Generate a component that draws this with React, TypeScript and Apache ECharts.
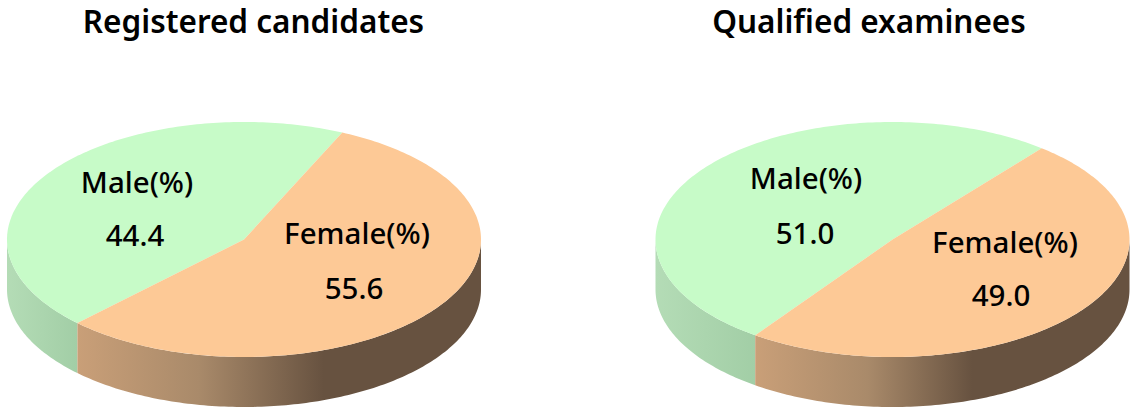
import React, { useEffect, useRef } from "react";
import * as echarts from "echarts";

const categories = ["Male(%)", "Female(%)"];
const registeredValues = [44.4, 55.6];
const qualifiedValues = [51.0, 49.0];
const pieTitles = ["Registered candidates", "Qualified examinees"];

const W = 1132;
const H = 409;
const FONT = '"Noto Sans", sans-serif';
const RX = 237;
const RY = 117.5;
const DEPTH = 50;
const TOP_COLORS = ["#C7FBC8", "#FDC996"];

const layouts = [
  {
    cx: 244,
    cy: 239.5,
    femaleStart: 24.5,
    titleX: 248.5,
    labels: [[137, 181, 135, 234], [357, 232, 354, 287]],
    darkStop: 0.61,
  },
  {
    cx: 892.5,
    cy: 239.5,
    femaleStart: 39,
    titleX: 864,
    labels: [[806, 177, 805, 232], [1005, 241, 1001, 294]],
    darkStop: 0.58,
  },
];

const pt = (l: any, deg: number, dy = 0) => {
  const a = (deg * Math.PI) / 180;
  return [l.cx + RX * Math.sin(a), l.cy - RY * Math.cos(a) + dy];
};

const arcPts = (l: any, from: number, to: number, dy = 0) => {
  const n = Math.max(2, Math.ceil(Math.abs(to - from)));
  const out: number[][] = [];
  for (let i = 0; i <= n; i++) out.push(pt(l, from + ((to - from) * i) / n, dy));
  return out;
};

const makeSeries = (values: number[], l: any) => ({
  type: "custom",
  coordinateSystem: "none",
  silent: true,
  data: values.map((v, i) => ({ name: categories[i], value: v })),
  renderItem: (params: any) => {
    const i = params.dataIndex;
    const total = values[0] + values[1];
    const femaleSweep = (values[1] / total) * 360;
    // slice 1 (female) runs clockwise from femaleStart; slice 0 (male) takes the rest
    const from = i === 1 ? l.femaleStart : l.femaleStart + femaleSweep;
    const to = i === 1 ? l.femaleStart + femaleSweep : l.femaleStart + 360;
    const wFrom = Math.max(from, 90);
    const wTo = Math.min(to, 270);
    const children: any[] = [];
    if (wTo > wFrom) {
      const stops =
        i === 1
          ? [
              { offset: 0, color: "#C99F78" },
              { offset: 0.3, color: "#A98A6A" },
              { offset: l.darkStop, color: "#675240" },
              { offset: 1, color: "#675240" },
            ]
          : [
              { offset: 0, color: "#B4DCB6" },
              { offset: 1, color: "#A2CEA6" },
            ];
      children.push({
        type: "polygon",
        shape: {
          points: [...arcPts(l, wFrom, wTo, 0), ...arcPts(l, wTo, wFrom, DEPTH)],
        },
        style: {
          fill: new echarts.graphic.LinearGradient(0, 0, 1, 0, stops),
        },
      });
    }
    children.push({
      type: "polygon",
      shape: { points: [[l.cx, l.cy], ...arcPts(l, from, to)] },
      style: { fill: TOP_COLORS[i] },
    });
    const [lx, ly, vx, vy] = l.labels[i];
    const textStyle = {
      fill: "#000",
      font: `500 29.5px ${FONT}`,
      textAlign: "center",
      textVerticalAlign: "middle",
    };
    children.push({
      type: "text",
      style: { ...textStyle, text: categories[i], x: lx, y: ly },
    });
    children.push({
      type: "text",
      style: { ...textStyle, text: values[i].toFixed(1), x: vx, y: vy },
    });
    return { type: "group", children };
  },
});

export default function App() {
  const ref = useRef<HTMLDivElement>(null);
  useEffect(() => {
    document.body.style.margin = "0";
    const chart = echarts.init(ref.current!, undefined, { renderer: "svg" });
    chart.setOption({
      animation: false,
      backgroundColor: "#fff",
      title: pieTitles.map((t, i) => ({
        text: t,
        left: layouts[i].titleX,
        top: -1,
        textAlign: "center",
        textStyle: { fontFamily: FONT, fontSize: 31.5, fontWeight: 600, color: "#000" },
      })),
      series: [makeSeries(registeredValues, layouts[0]), makeSeries(qualifiedValues, layouts[1])],
    });
    return () => chart.dispose();
  }, []);
  return <div ref={ref} style={{ width: W, height: H }} />;
}
